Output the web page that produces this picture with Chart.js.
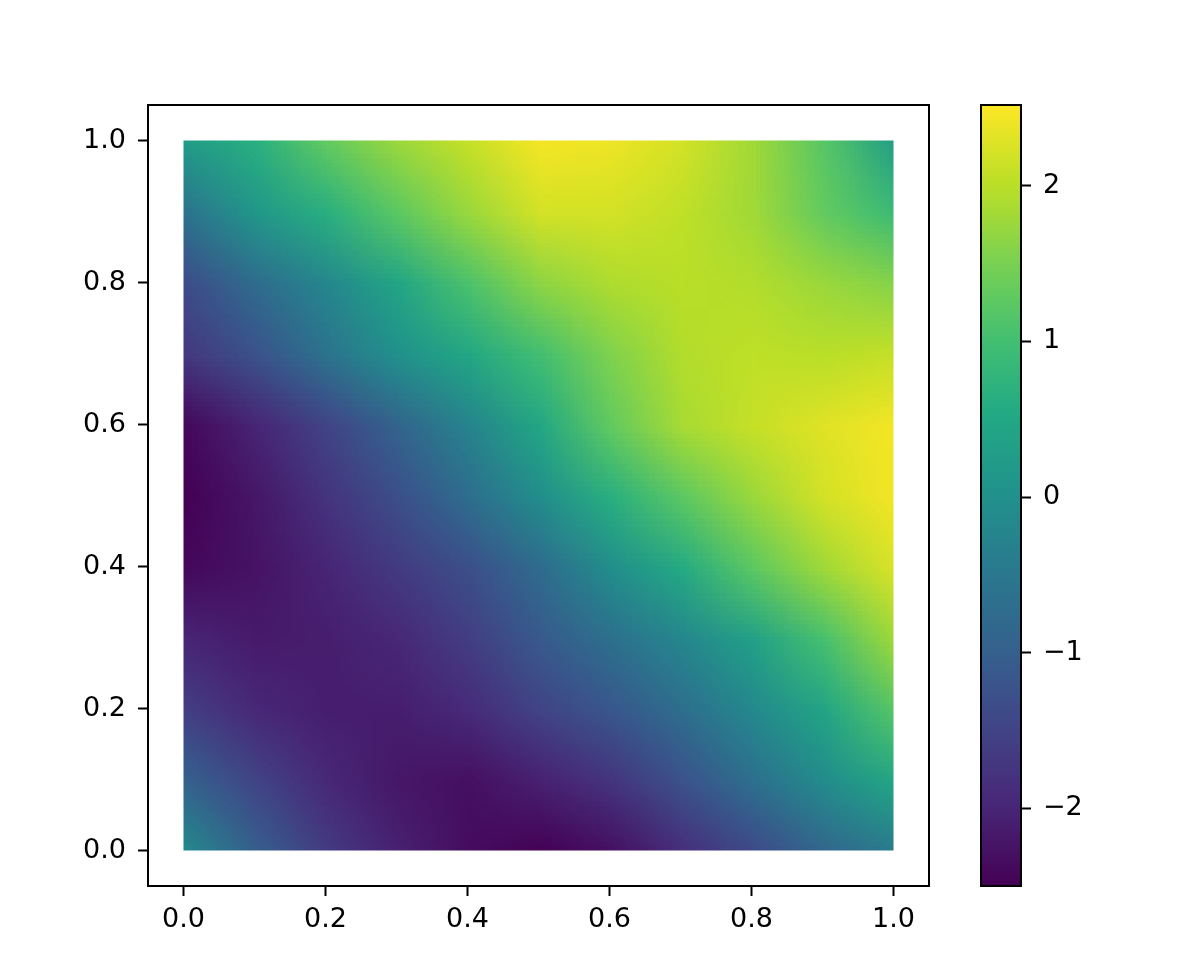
<!DOCTYPE html>
<html>
<head>
<meta charset="utf-8">
<script src="https://cdn.jsdelivr.net/npm/chart.js@4.4.0/dist/chart.umd.min.js"></script>
<style>
  html, body { margin: 0; padding: 0; background: #fff; }
  #wrap { position: relative; width: 1196px; height: 959px; }
  canvas { position: absolute; left: 0; top: 0; }
</style>
</head>
<body>
<div id="wrap">
  <canvas id="field" width="1196" height="959"></canvas>
  <canvas id="cbar" width="1196" height="959"></canvas>
</div>
<script>
// grid nodes
const xNodes = [0, 0.1, 0.2, 0.3, 0.4, 0.5, 0.6, 0.7, 0.8, 0.9, 1.0];
const yNodes = [0, 0.1, 0.2, 0.3, 0.4, 0.5, 0.6, 0.7, 0.8, 0.9, 1.0];

// values, one row per y (bottom to top)
const zAtY00 = [-0.15, -1.0, -1.65, -2.05, -2.35, -2.5, -2.3, -1.85, -1.4, -0.85, -0.45];
const zAtY01 = [-0.95, -1.5, -1.95, -2.2, -2.3, -2.05, -1.75, -1.25, -0.65, -0.1, 0.5];
const zAtY02 = [-1.6, -1.95, -2.1, -2.1, -1.9, -1.5, -1.15, -0.7, -0.15, 0.45, 1.2];
const zAtY03 = [-2.0, -2.15, -2.1, -1.95, -1.6, -1.1, -0.65, -0.2, 0.35, 1.05, 1.8];
const zAtY04 = [-2.4, -2.25, -2.0, -1.65, -1.3, -0.75, -0.05, 0.55, 1.25, 1.8, 2.25];
const zAtY05 = [-2.5, -2.2, -1.75, -1.3, -0.7, -0.05, 0.65, 1.25, 1.75, 2.2, 2.45];
const zAtY06 = [-2.4, -2.0, -1.5, -0.9, -0.25, 0.5, 1.3, 1.85, 2.1, 2.3, 2.45];
const zAtY07 = [-1.7, -1.25, -0.6, 0.0, 0.5, 1.0, 1.55, 1.95, 2.05, 2.0, 2.1];
const zAtY08 = [-1.35, -0.75, -0.2, 0.45, 1.1, 1.65, 1.9, 2.0, 1.95, 1.75, 1.6];
const zAtY09 = [-0.6, 0.15, 0.65, 1.25, 1.75, 2.2, 2.2, 2.05, 1.8, 1.3, 0.9];
const zAtY10 = [0.25, 0.65, 1.3, 1.75, 2.1, 2.45, 2.4, 2.2, 1.8, 1.2, 0.3];
const zRows = [zAtY00, zAtY01, zAtY02, zAtY03, zAtY04, zAtY05, zAtY06, zAtY07, zAtY08, zAtY09, zAtY10];

const xTicks = [0, 0.2, 0.4, 0.6, 0.8, 1.0];
const yTicks = [0, 0.2, 0.4, 0.6, 0.8, 1.0];
const cbTicks = [-2, -1, 0, 1, 2];
const vMin = -2.5;
const vMax = 2.52;

// viridis colormap
const viridisStops = [
  [0, '#440154'], [0.1, '#482576'], [0.125, '#472d7b'], [0.2, '#414487'],
  [0.25, '#3b528b'], [0.3, '#35608d'], [0.375, '#2c728e'], [0.4, '#2a788e'],
  [0.5, '#21918c'], [0.6, '#22a884'], [0.625, '#28ae80'], [0.7, '#43bf71'],
  [0.75, '#5ec962'], [0.8, '#7ad151'], [0.875, '#addc30'], [0.9, '#bbdf27'],
  [1, '#fde725']
];

function hexToRgb(h) {
  return [parseInt(h.slice(1, 3), 16), parseInt(h.slice(3, 5), 16), parseInt(h.slice(5, 7), 16)];
}

function viridis(t) {
  t = Math.max(0, Math.min(1, t));
  for (let k = 1; k < viridisStops.length; k++) {
    if (t <= viridisStops[k][0]) {
      const [t0, c0] = viridisStops[k - 1];
      const [t1, c1] = viridisStops[k];
      const f = (t - t0) / (t1 - t0);
      const a = hexToRgb(c0), b = hexToRgb(c1);
      return [0, 1, 2].map(i => Math.round(a[i] + (b[i] - a[i]) * f));
    }
  }
  return hexToRgb('#fde725');
}

const font = { family: 'DejaVu Sans', size: 27 };

// grid nodes as points
const nodePoints = [];
yNodes.forEach((y, j) => {
  xNodes.forEach((x, i) => {
    nodePoints.push({ x: x, y: y, v: zRows[j][i], i: i, j: j });
  });
});

// shaded field (gouraud-like) from node colours
const fieldPlugin = {
  id: 'field',
  beforeDatasetsDraw(chart) {
    const ctx = chart.ctx;
    const xs = chart.scales.x, ys = chart.scales.y;
    const nx = xNodes.length, ny = yNodes.length;
    const off = document.createElement('canvas');
    off.width = nx;
    off.height = ny;
    const octx = off.getContext('2d');
    const img = octx.createImageData(nx, ny);
    chart.data.datasets[0].data.forEach(p => {
      const c = viridis((p.v - vMin) / (vMax - vMin));
      const k = ((ny - 1 - p.j) * nx + p.i) * 4;
      img.data[k] = c[0];
      img.data[k + 1] = c[1];
      img.data[k + 2] = c[2];
      img.data[k + 3] = 255;
    });
    octx.putImageData(img, 0, 0);

    const dx = xNodes[1] - xNodes[0];
    const dy = yNodes[1] - yNodes[0];
    const left = xs.getPixelForValue(xNodes[0] - dx / 2);
    const right = xs.getPixelForValue(xNodes[nx - 1] + dx / 2);
    const top = ys.getPixelForValue(yNodes[ny - 1] + dy / 2);
    const bottom = ys.getPixelForValue(yNodes[0] - dy / 2);

    const cx0 = xs.getPixelForValue(xNodes[0]);
    const cx1 = xs.getPixelForValue(xNodes[nx - 1]);
    const cy0 = ys.getPixelForValue(yNodes[ny - 1]);
    const cy1 = ys.getPixelForValue(yNodes[0]);

    ctx.save();
    ctx.beginPath();
    ctx.rect(cx0, cy0, cx1 - cx0, cy1 - cy0);
    ctx.clip();
    ctx.imageSmoothingEnabled = true;
    ctx.imageSmoothingQuality = 'low';
    ctx.drawImage(off, left, top, right - left, bottom - top);
    ctx.restore();
  },
  afterDraw(chart) {
    const a = chart.chartArea;
    const ctx = chart.ctx;
    ctx.save();
    ctx.strokeStyle = '#000';
    ctx.lineWidth = 2;
    ctx.strokeRect(a.left, a.top, a.right - a.left, a.bottom - a.top);
    ctx.restore();
  }
};

const tickGrid = {
  display: true,
  drawOnChartArea: false,
  drawTicks: true,
  tickLength: 10,
  tickWidth: 2,
  tickColor: '#000',
  color: '#000'
};

new Chart(document.getElementById('field').getContext('2d'), {
  type: 'scatter',
  data: {
    datasets: [{
      data: nodePoints,
      pointRadius: 0,
      pointHoverRadius: 0
    }]
  },
  options: {
    responsive: false,
    animation: false,
    events: [],
    layout: { padding: { top: 105, right: 267, left: 0, bottom: 0 } },
    plugins: { legend: { display: false }, tooltip: { enabled: false } },
    scales: {
      x: {
        type: 'linear',
        min: -0.05,
        max: 1.05,
        afterBuildTicks: s => { s.ticks = xTicks.map(v => ({ value: v })); },
        afterFit: s => { s.height = 73; },
        grid: tickGrid,
        border: { display: false },
        ticks: {
          color: '#000',
          font: font,
          padding: 8,
          maxRotation: 0,
          autoSkip: false,
          callback: v => Number(v).toFixed(1)
        }
      },
      y: {
        type: 'linear',
        min: -0.05,
        max: 1.05,
        afterBuildTicks: s => { s.ticks = yTicks.map(v => ({ value: v })); },
        afterFit: s => { s.width = 148; },
        grid: tickGrid,
        border: { display: false },
        ticks: {
          color: '#000',
          font: font,
          padding: 12,
          autoSkip: false,
          callback: v => Number(v).toFixed(1)
        }
      }
    }
  },
  plugins: [fieldPlugin]
});

// colour bar
const cbarPlugin = {
  id: 'cbar',
  beforeDatasetsDraw(chart) {
    const a = chart.chartArea;
    const ys = chart.scales.y;
    const ctx = chart.ctx;
    const y0 = ys.getPixelForValue(vMin), y1 = ys.getPixelForValue(vMax);
    const g = ctx.createLinearGradient(0, y0, 0, y1);
    viridisStops.forEach(s => g.addColorStop(s[0], s[1]));
    ctx.save();
    ctx.fillStyle = g;
    ctx.fillRect(a.left, y1, a.right - a.left, y0 - y1);
    ctx.restore();
  },
  afterDraw(chart) {
    const a = chart.chartArea;
    const ctx = chart.ctx;
    ctx.save();
    ctx.strokeStyle = '#000';
    ctx.lineWidth = 2;
    ctx.strokeRect(a.left, a.top, a.right - a.left, a.bottom - a.top);
    ctx.restore();
  }
};

new Chart(document.getElementById('cbar').getContext('2d'), {
  type: 'scatter',
  data: { datasets: [] },
  options: {
    responsive: false,
    animation: false,
    events: [],
    layout: { padding: { top: 105, right: 75, left: 981, bottom: 73 } },
    plugins: { legend: { display: false }, tooltip: { enabled: false } },
    scales: {
      x: { type: 'linear', display: false, min: 0, max: 1 },
      y: {
        type: 'linear',
        position: 'right',
        min: vMin,
        max: vMax,
        afterBuildTicks: s => { s.ticks = cbTicks.map(v => ({ value: v })); },
        afterFit: s => { s.width = 100; },
        grid: tickGrid,
        border: { display: false },
        ticks: {
          color: '#000',
          font: font,
          padding: 12,
          autoSkip: false,
          callback: v => (v < 0 ? '\u2212' + Math.abs(v) : String(v))
        }
      }
    }
  },
  plugins: [cbarPlugin]
});
</script>
</body>
</html>
